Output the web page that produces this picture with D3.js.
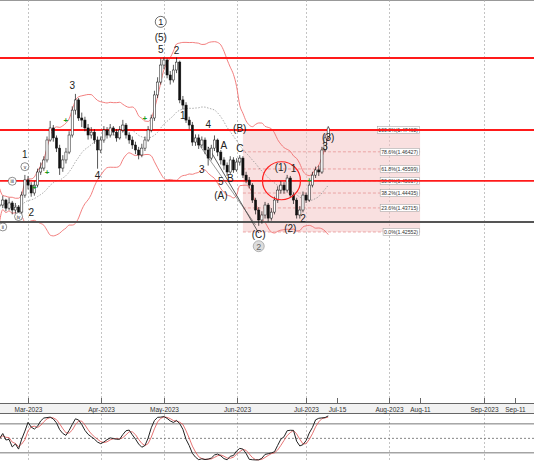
<!DOCTYPE html>
<html><head><meta charset="utf-8">
<script src="https://cdn.jsdelivr.net/npm/d3@7"></script>
<style>body{margin:0;background:#fff}svg{display:block;font-family:"Liberation Sans",Arial,sans-serif}</style>
</head><body><div id="chart"></div>
<script>
var width = 534, height = 462

// trading days Feb 16 - Jul 12 2023
var dates = d3.timeDay.range(new Date(2023, 1, 16), new Date(2023, 6, 13)).filter(function(d){ return d.getDay() > 0 && d.getDay() < 6 })
var closes = [1.4385,1.4409,1.4370,1.4395,1.4361,1.4375,1.4351,1.4433,1.4506,
  1.4481,1.4443,1.4481,1.4544,1.4563,1.4602,1.4698,1.4756,1.4708,1.4659,1.4563,1.4602,1.4640,1.4722,1.4842,1.4891,1.4804,1.4794,1.4756,1.4722,1.4736,1.4698,1.4650,
  1.4698,1.4746,1.4722,1.4756,1.4736,1.4708,1.4746,1.4770,1.4722,1.4698,1.4674,1.4650,1.4626,1.4659,1.4698,1.4746,1.4804,1.4915,1.4977,1.5059,
  1.5083,1.5011,1.4987,1.5035,1.5073,1.4891,1.4866,1.4794,1.4770,1.4688,1.4708,1.4674,1.4698,1.4650,1.4611,1.4659,1.4698,1.4640,1.4602,1.4577,1.4544,1.4602,1.4554,
  1.4592,1.4611,1.4529,1.4505,1.4481,1.4409,1.4361,1.4313,1.4337,1.4385,1.4322,1.4351,1.4409,1.4457,1.4481,1.4457,1.4515,1.4433,1.4409,1.4337,1.4361,1.4433,
  1.4409,1.4481,1.4529,1.4554,1.4544,1.4650,1.4708,1.4756]
var highs = [1.4410,1.4430,1.4415,1.4420,1.4405,1.4395,1.4385,1.4450,1.4530,
  1.4525,1.4495,1.4500,1.4560,1.4590,1.4620,1.4715,1.4790,1.4770,1.4720,1.4675,1.4625,1.4660,1.4740,1.4860,1.4920,1.4900,1.4830,1.4810,1.4775,1.4760,1.4750,1.4715,
  1.4715,1.4765,1.4760,1.4775,1.4765,1.4750,1.4765,1.4795,1.4780,1.4735,1.4715,1.4690,1.4665,1.4680,1.4715,1.4765,1.4820,1.4935,1.5000,1.5090,
  1.5095,1.5090,1.5030,1.5060,1.5095,1.5080,1.4910,1.4880,1.4810,1.4785,1.4725,1.4725,1.4715,1.4710,1.4665,1.4675,1.4720,1.4705,1.4650,1.4615,1.4590,1.4620,1.4615,
  1.4610,1.4625,1.4620,1.4545,1.4520,1.4490,1.4420,1.4375,1.4355,1.4400,1.4395,1.4370,1.4425,1.4475,1.4500,1.4495,1.4530,1.4525,1.4445,1.4420,1.4380,1.4450,
  1.4445,1.4495,1.4545,1.4570,1.4575,1.4665,1.4725,1.4765]
var lows = [1.4360,1.4370,1.4355,1.4360,1.4340,1.4345,1.4330,1.4340,1.4420,
  1.4460,1.4425,1.4430,1.4470,1.4530,1.4550,1.4590,1.4690,1.4690,1.4640,1.4530,1.4545,1.4585,1.4630,1.4710,1.4820,1.4790,1.4760,1.4740,1.4700,1.4705,1.4680,1.4560,
  1.4635,1.4685,1.4705,1.4710,1.4720,1.4690,1.4700,1.4735,1.4705,1.4680,1.4655,1.4630,1.4605,1.4615,1.4645,1.4690,1.4735,1.4790,1.4900,1.4965,
  1.5040,1.4995,1.4965,1.4975,1.5020,1.4875,1.4845,1.4780,1.4750,1.4670,1.4670,1.4655,1.4660,1.4630,1.4575,1.4600,1.4645,1.4620,1.4580,1.4555,1.4525,1.4535,1.4540,
  1.4545,1.4575,1.4515,1.4490,1.4465,1.4395,1.4340,1.4285,1.4295,1.4320,1.4305,1.4310,1.4340,1.4395,1.4440,1.4440,1.4445,1.4420,1.4390,1.4320,1.4320,1.4350,
  1.4395,1.4400,1.4470,1.4515,1.4525,1.4535,1.4640,1.4700]
var opens = closes.map(function(c, i){ return i ? closes[i-1] : 1.4380 })

var redLevels = [1.50929, 1.47462, 1.45017]
var greyLevel = 1.43033
var fibPcts = [100, 78.6, 61.8, 50, 38.2, 23.6, 0]
var fibLabels = ["1.47462","1.46427","1.45599","1.45017","1.44435","1.43715","1.42552"]
var fibLow = 1.42552, fibHigh = 1.47462

var tickDates = [new Date(2023,2,1), new Date(2023,3,3), new Date(2023,4,1), new Date(2023,5,1), new Date(2023,6,3),
  new Date(2023,6,15), new Date(2023,7,1), new Date(2023,7,11), new Date(2023,8,1), new Date(2023,8,11)]
var tickLabels = ["Mar-2023","Apr-2023","May-2023","Jun-2023","Jul-2023","Jul-15","Aug-2023","Aug-11","Sep-2023","Sep-11"]
var tickGrid = [true,true,true,true,true,false,true,false,true,false]

// wave labels: [text, trading day index, price, style]
var waves = [["1",8,1.4610,0],["v",8,1.4560,1],["iii",4,1.4490,1],["iv",6,1.4320,1],["ii",1,1.4270,1],["2",10,1.4330,0],
  ["3",21+2,1.4945,0],["4",31,1.4510,0],["①",51,1.5250,2],["(5)",51,1.5175,0],["5",51,1.5115,0],["2",56,1.5110,0],
  ["1",58,1.4800,0],["3",64,1.4540,0],["4",66,1.4755,0],["A",71,1.4655,0],["B",73,1.4495,0],["5",70,1.4480,0],["(A)",70,1.4415,0],
  ["(B)",76,1.4735,0],["C",76,1.4640,0],["(C)",82,1.4225,0],["②",82,1.4170,3],
  ["(1)",89,1.4550,0],["1",93,1.4545,0],["(2)",92,1.4255,0],["2",96,1.4305,0],["3",103,1.4650,0],["(3)",104,1.4695,0]]

var svg = d3.select("#chart").append("svg").attr("width", width).attr("height", height)

var step = 3.16
var x = function(i){ return -0.4 + i * step }
var xFut = d3.scaleTime().domain([new Date(2023,6,12), new Date(2023,8,11)]).range([x(104), 515])
function xDate(d){
  var i = dates.findIndex(function(t){ return +t === +d })
  if (i >= 0) return x(i)
  if (d > dates[dates.length-1]) return xFut(d)
  return x(d3.bisectLeft(dates, d))
}
var y = d3.scaleLinear().domain([fibLow, fibHigh]).range([232, 130])
var yo = d3.scaleLinear().domain([0, 100]).range([462.5, 414.2])

// frame lines
svg.append("line").attr("x1",0).attr("x2",width).attr("y1",0.5).attr("y2",0.5).attr("stroke","#999")
svg.append("rect").attr("x",0).attr("y",404).attr("width",width).attr("height",9).attr("fill","#f2f2f2")
svg.append("line").attr("x1",0).attr("x2",width).attr("y1",403.5).attr("y2",403.5).attr("stroke","#666")
svg.append("line").attr("x1",0).attr("x2",width).attr("y1",413.5).attr("y2",413.5).attr("stroke","#666")

// vertical grid
tickDates.forEach(function(d, k){
  var xx = Math.round(xDate(d)) + 0.5
  if (tickGrid[k]) {
    svg.append("line").attr("x1",xx).attr("x2",xx).attr("y1",0).attr("y2",403).attr("stroke","#aaa").attr("stroke-dasharray","2,2").attr("stroke-width",0.7)
    svg.append("line").attr("x1",xx).attr("x2",xx).attr("y1",414).attr("y2",462).attr("stroke","#aaa").attr("stroke-dasharray","2,2").attr("stroke-width",0.7)
  }
  svg.append("line").attr("x1",xx).attr("x2",xx).attr("y1",398).attr("y2",403).attr("stroke","#666")
  svg.append("text").attr("x",xx).attr("y",411.5).attr("text-anchor","middle").style("font-size","6.5px").attr("fill","#333").text(tickLabels[k])
})

// fib box
var fx0 = xDate(new Date(2023,5,5)), fx1 = xFut(new Date(2023,7,11))
svg.append("rect").attr("x",fx0).attr("y",y(fibHigh)).attr("width",fx1-fx0).attr("height",y(fibLow)-y(fibHigh)).attr("fill","#f4c6c6").attr("opacity",0.55)
fibPcts.forEach(function(p, k){
  var v = fibLow + (fibHigh - fibLow) * p / 100
  svg.append("line").attr("x1",fx0).attr("x2",fx1).attr("y1",y(v)).attr("y2",y(v)).attr("stroke","#e07a7a").attr("stroke-width",0.6).attr("stroke-dasharray","3,2")
  var lbl = p.toFixed(1) + "%(" + fibLabels[k] + ")"
  var t = svg.append("text").attr("x",fx1-2).attr("y",y(v)+2).attr("text-anchor","end").style("font-size","5.2px").attr("fill","#333").text(lbl)
  var bb = t.node().getBBox()
  svg.insert("rect", function(){ return t.node() }).attr("x",bb.x-1).attr("y",bb.y-0.5).attr("width",bb.width+2).attr("height",bb.height+1).attr("fill","#fff").attr("stroke","#999").attr("stroke-width",0.5)
})

// bollinger bands (20, 2)
var bb = closes.map(function(c, i){
  var w = closes.slice(Math.max(0, i-19), i+1)
  var m = d3.mean(w), s = d3.deviation(w) || 0.004
  return {i: i, m: m, u: m + 2*s, l: m - 2*s}
})
var line = function(key){ return d3.line().x(function(d){ return x(d.i) }).y(function(d){ return y(d[key]) }).curve(d3.curveMonotoneX) }
svg.append("path").datum(bb).attr("d", line("u")).attr("fill","none").attr("stroke","#f07070").attr("stroke-width",0.9)
svg.append("path").datum(bb).attr("d", line("l")).attr("fill","none").attr("stroke","#f07070").attr("stroke-width",0.9)
svg.append("path").datum(bb).attr("d", line("m")).attr("fill","none").attr("stroke","#888").attr("stroke-width",0.7).attr("stroke-dasharray","1.5,1.5")

// horizontal levels
redLevels.forEach(function(v){
  svg.append("line").attr("x1",0).attr("x2",width).attr("y1",y(v)).attr("y2",y(v)).attr("stroke","#ff1a1a").attr("stroke-width",1.8)
})
svg.append("line").attr("x1",0).attr("x2",width).attr("y1",y(greyLevel)).attr("y2",y(greyLevel)).attr("stroke","#555").attr("stroke-width",1.8)

// trend lines 4 -> (C)
svg.append("line").attr("x1",x(66)).attr("y1",y(highs[66])).attr("x2",x(82)).attr("y2",y(1.4250)).attr("stroke","#333").attr("stroke-width",0.8)
svg.append("line").attr("x1",x(62)).attr("y1",y(1.4700)).attr("x2",x(81)).attr("y2",y(1.4290)).attr("stroke","#555").attr("stroke-width",0.6)

// candles
var cw = 2.2
dates.forEach(function(d, i){
  var o = opens[i], c = closes[i]
  svg.append("line").attr("x1",x(i)).attr("x2",x(i)).attr("y1",y(highs[i])).attr("y2",y(lows[i])).attr("stroke","#111").attr("stroke-width",0.7)
  svg.append("rect").attr("x",x(i)-cw/2).attr("y",y(Math.max(o,c))).attr("width",cw).attr("height",Math.max(0.8, Math.abs(y(o)-y(c))))
    .attr("fill", c >= o ? "#fff" : "#111").attr("stroke","#111").attr("stroke-width",0.5)
})

// red circle
svg.append("circle").attr("cx",x(93)-12).attr("cy",y(1.4502)).attr("r",19).attr("fill","none").attr("stroke","#ff2020").attr("stroke-width",1.2)

// green markers
;[[11,1.4470],[15,1.4540],[21,1.4790],[46,1.4800],[98,1.4505]].forEach(function(g){
  svg.append("text").attr("x",x(g[0])).attr("y",y(g[1])+2.5).attr("text-anchor","middle").style("font-size","8px").style("font-weight","bold").attr("fill","#1a9a1a").text("+")
})

// wave labels
waves.forEach(function(w){
  var cx = x(w[1]), cy = y(w[2])
  if (w[3] === 1) {
    svg.append("circle").attr("cx",cx).attr("cy",cy-2).attr("r",4).attr("fill","#fff").attr("stroke","#444").attr("stroke-width",0.6)
    svg.append("text").attr("x",cx).attr("y",cy).attr("text-anchor","middle").style("font-size","5px").attr("fill","#222").text(w[0])
  } else if (w[3] >= 2) {
    var grey = w[3] === 3
    svg.append("circle").attr("cx",cx).attr("cy",cy-3.5).attr("r",5.5).attr("fill", grey ? "#ddd" : "#fff").attr("stroke", grey ? "#999" : "#333").attr("stroke-width",0.7)
    svg.append("text").attr("x",cx).attr("y",cy).attr("text-anchor","middle").style("font-size","9px").attr("fill", grey ? "#666" : "#222").text(w[0] === "①" ? "1" : "2")
  } else {
    svg.append("text").attr("x",cx).attr("y",cy).attr("text-anchor","middle").style("font-size","10px").attr("fill","#222").text(w[0])
  }
})

// oscillator (stochastic 14,3,3)
var fastK = closes.map(function(c, i){
  var hh = d3.max(highs.slice(Math.max(0,i-13), i+1)), ll = d3.min(lows.slice(Math.max(0,i-13), i+1))
  return 100 * (c - ll) / (hh - ll)
})
var slowK = fastK.map(function(v, i){ return d3.mean(fastK.slice(Math.max(0,i-2), i+1)) })
var slowD = slowK.map(function(v, i){ return d3.mean(slowK.slice(Math.max(0,i-2), i+1)) })
;[80, 20].forEach(function(v){
  svg.append("line").attr("x1",0).attr("x2",width).attr("y1",yo(v)).attr("y2",yo(v)).attr("stroke","#555").attr("stroke-width",0.8)
})
svg.append("line").attr("x1",0).attr("x2",width).attr("y1",yo(50)).attr("y2",yo(50)).attr("stroke","#666").attr("stroke-width",0.8).attr("stroke-dasharray","2,2")
var oline = d3.line().x(function(d, i){ return x(i) }).y(function(d){ return yo(Math.max(2, Math.min(98, d))) })
svg.append("path").datum(slowD).attr("d", oline).attr("fill","none").attr("stroke","#e05050").attr("stroke-width",0.8)
svg.append("path").datum(slowK).attr("d", oline).attr("fill","none").attr("stroke","#222").attr("stroke-width",1)
</script></body></html>
